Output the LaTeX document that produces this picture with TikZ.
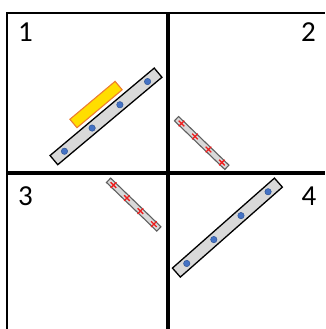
\documentclass[tikz,border=0pt]{standalone}
\usepackage{fontspec}
\setmainfont{Carlito}
\usetikzlibrary{calc}

\definecolor{barfill}{RGB}{217,217,217}
\definecolor{bargray}{RGB}{95,95,95}
\definecolor{dotblue}{RGB}{68,114,196}
\definecolor{dotedge}{RGB}{47,85,151}
\definecolor{loadfill}{RGB}{255,222,0}
\definecolor{loadedge}{RGB}{237,125,49}
\definecolor{markred}{RGB}{240,30,30}

\tikzset{every picture/.style={line width=0.75pt}}
\tikzset{
  longbar/.style={draw=black, fill=barfill, line width=1.3, minimum width=136, minimum height=12, inner sep=0pt},
  thinbar/.style={draw=bargray, fill=barfill, line width=1.1, minimum width=70, minimum height=6, inner sep=0pt},
  loadbar/.style={draw=loadedge, fill=loadfill, line width=1.1, minimum width=59, minimum height=11, inner sep=0pt},
  dot/.style={fill=dotblue, draw=dotedge, line width=0.5},
  xmark/.style={draw=markred, line width=1.3},
  panelno/.style={font=\fontsize{29}{29}\selectfont, inner sep=0pt}
}

\begin{document}
\begin{tikzpicture}[x=1pt,y=1pt,yscale=-1]
\path[use as bounding box] (0,0) rectangle (325,329);

% frame and dividers
\draw[line width=2.5] (7,329) -- (7,13) -- (325,13);
\draw[line width=4] (7,173) -- (325,173);
\draw[line width=4] (168,13) -- (168,329);

% panel numbers
\node[panelno] (n1) at (25.5,32.5) {1};
\node[panelno] (n2) at (308.5,32.5) {2};
\node[panelno] (n3) at (25.5,196.5) {3};
\node[panelno] (n4) at (309,196.5) {4};

% panel 1: long bar with load on top
\node[longbar, rotate=40] (bar1) at (106,116.4) {};
\foreach \f in {0.105,0.368,0.632,0.895}
  \filldraw[dot] ($(bar1.west)!\f!(bar1.east)$) circle (3.2);
\node[loadbar, rotate=40] (load1) at ($(bar1.center)!15.5pt!-90:(bar1.east)$) {};

% panel 2: short bar
\node[thinbar, rotate=-44] (bar2) at (201.7,143) {};
\foreach \f in {0.105,0.368,0.632,0.895}
  \draw[xmark] ($(bar2.west)!\f!(bar2.east)$) +(-2.8,-2.8) -- +(2.8,2.8) +(-2.8,2.8) -- +(2.8,-2.8);

% panel 3: short bar
\node[thinbar, rotate=-44] (bar3) at (133.7,204.6) {};
\foreach \f in {0.105,0.368,0.632,0.895}
  \draw[xmark] ($(bar3.west)!\f!(bar3.east)$) +(-2.8,-2.8) -- +(2.8,2.8) +(-2.8,2.8) -- +(2.8,-2.8);

% panel 4: long bar alone
\node[longbar, rotate=41.4] (bar4) at (227.4,227.6) {};
\foreach \f in {0.105,0.368,0.632,0.895}
  \filldraw[dot] ($(bar4.west)!\f!(bar4.east)$) circle (3.2);

\end{tikzpicture}
\end{document}
